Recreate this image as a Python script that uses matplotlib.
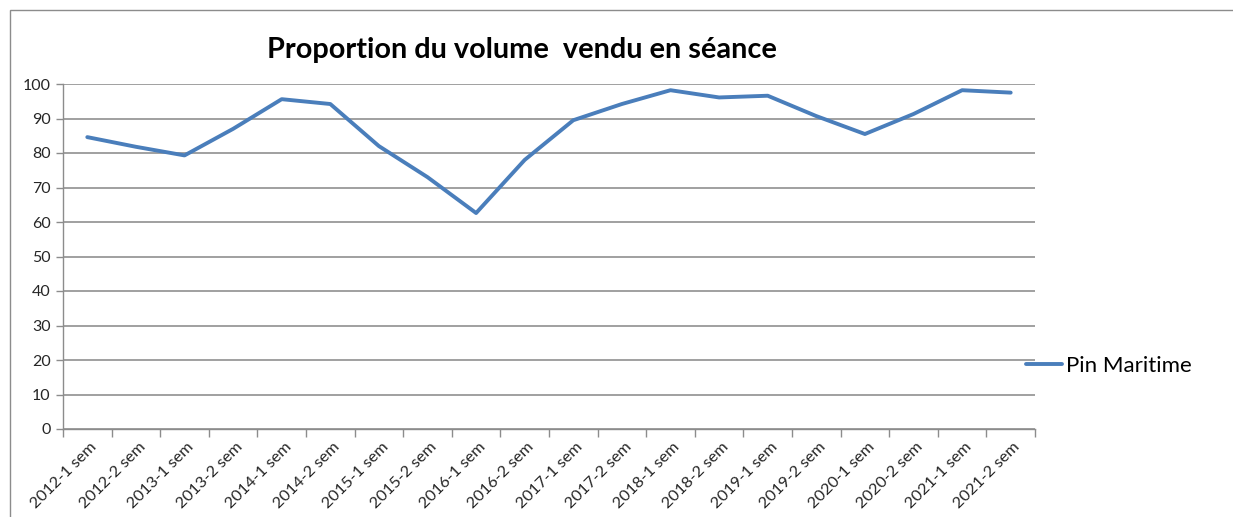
import matplotlib.pyplot as plt
from matplotlib.patches import Rectangle
import numpy as np

# categories (semestres)
categories = ['2012-1 sem', '2012-2 sem', '2013-1 sem', '2013-2 sem', '2014-1 sem',
              '2014-2 sem', '2015-1 sem', '2015-2 sem', '2016-1 sem', '2016-2 sem',
              '2017-1 sem', '2017-2 sem', '2018-1 sem', '2018-2 sem', '2019-1 sem',
              '2019-2 sem', '2020-1 sem', '2020-2 sem', '2021-1 sem', '2021-2 sem']
pin_maritime = [84.6, 81.8, 79.3, 87.0, 95.6, 94.2, 82.0, 73.0, 62.6, 78.0,
                89.5, 94.2, 98.2, 96.1, 96.6, 90.7, 85.5, 91.3, 98.2, 97.5]
y_ticks = [0, 10, 20, 30, 40, 50, 60, 70, 80, 90, 100]
title = 'Proportion du volume  vendu en séance'
series_name = 'Pin Maritime'

plt.rcParams['font.family'] = ['Lato', 'DejaVu Sans']

W, H = 1233, 517
fig = plt.figure(figsize=(W / 100, H / 100), dpi=100)

# cadre du graphique (bord gauche + haut)
fig.patches.append(Rectangle((10 / W, -0.1), 1.2, 1 - 10 / H + 0.1, transform=fig.transFigure,
                             fill=False, edgecolor='#8c8c8c', linewidth=1.0))

ax = fig.add_axes([63 / W, 1 - 429 / H, (1035 - 63) / W, (429 - 84) / H])

x = np.arange(len(categories))
ax.plot(x, pin_maritime, color='#4a7ebb', linewidth=2.8, solid_capstyle='round',
        label=series_name)

ax.set_xlim(-0.5, len(categories) - 0.5)
ax.set_ylim(0, 100)
ax.set_yticks(y_ticks)
ax.tick_params(axis='y', labelsize=11.5, colors='#8c8c8c', labelcolor='#262626',
               length=5, width=1.0, pad=4)

# ticks x entre les catégories, labels au centre
ax.set_xticks(np.arange(len(categories) + 1) - 0.5)
ax.set_xticklabels([])
ax.tick_params(axis='x', colors='#8c8c8c', length=6, width=1.0)
for i, c in enumerate(categories):
    ax.text(i + 0.05, -3.2, c, rotation=45, ha='right', va='top', rotation_mode='anchor',
            fontsize=11.8, color='#262626', transform=ax.transData)

ax.grid(axis='y', color='#868686', linewidth=1.1)
ax.set_axisbelow(True)
for s in ['top', 'right']:
    ax.spines[s].set_visible(False)
for s in ['left', 'bottom']:
    ax.spines[s].set_color('#8c8c8c')
    ax.spines[s].set_linewidth(1.0)

fig.text(522 / W, 1 - 50 / H, title, ha='center', va='center', fontsize=20.8,
         fontweight='bold', color='black')

fig.legend(loc='center left', bbox_to_anchor=(1026 / W, 1 - 366 / H), frameon=False,
           fontsize=16, handlelength=1.6, handletextpad=0.2, borderpad=0,
           borderaxespad=0)

fig.savefig('out.png', dpi=100)
